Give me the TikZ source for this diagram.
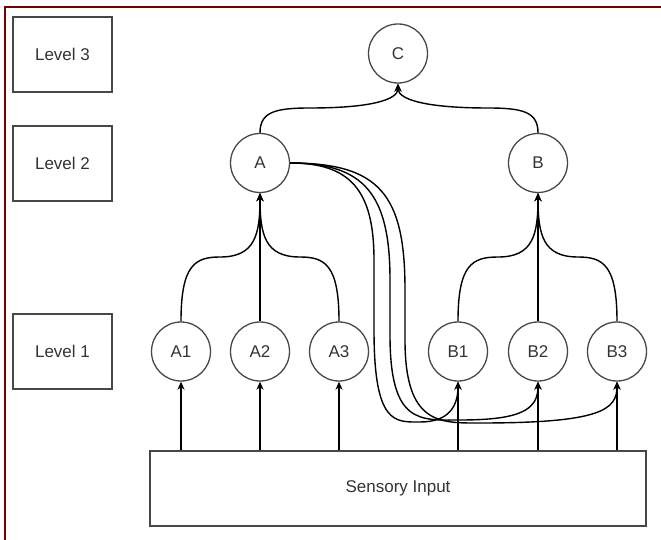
\documentclass[tikz,border=0pt]{standalone}
\usepackage{fontspec}
\setmainfont{Liberation Sans}
\usetikzlibrary{arrows.meta}
\definecolor{txt}{HTML}{333333}
\definecolor{edgegray}{HTML}{474747}
\definecolor{frame}{HTML}{750000}
\begin{document}
\begin{tikzpicture}[x=1pt,y=-1pt,
  lbl/.style={font=\fontsize{17}{20}\selectfont, text=txt},
  neuron/.style={lbl, circle, draw=edgegray, line width=1.3pt, minimum size=59pt, inner sep=0pt},
  lvlbox/.style={lbl, rectangle, draw=edgegray, line width=1.5pt, minimum width=99pt, minimum height=75pt, inner sep=0pt},
  conn/.style={draw=black, line width=1.4pt, -{Stealth[length=8pt,width=7pt,inset=2.5pt]}}
]
\useasboundingbox (0,0) rectangle (661,540);
\draw[frame, line width=1.4pt] (5,540) -- (5,7) -- (661,7);

% level boxes
\node[lvlbox] (L3) at (62.5,54.5) {Level 3};
\node[lvlbox] (L2) at (62.5,163.5) {Level 2};
\node[lvlbox] (L1) at (62.5,351.5) {Level 1};

% neurons
\node[neuron] (C) at (398,53.5) {C};
\node[neuron] (A) at (260,163) {A};
\node[neuron] (B) at (538,163) {B};
\node[neuron] (A1) at (181,351.5) {A1};
\node[neuron] (A2) at (260,351.5) {A2};
\node[neuron] (A3) at (339,351.5) {A3};
\node[neuron] (B1) at (458,351.5) {B1};
\node[neuron] (B2) at (538,351.5) {B2};
\node[neuron] (B3) at (617,351.5) {B3};

% sensory box
\node[lvlbox, minimum width=496pt] (S) at (398,488.5) {Sensory Input};

% level 2 -> level 3
\draw[conn] (A.north) .. controls (260,112) and (275,108) .. (310,108)
  .. controls (370,108) and (C.south |- 0,100) .. (C.south);
\draw[conn] (B.north) .. controls (538,112) and (523,108) .. (488,108)
  .. controls (428,108) and (C.south |- 0,100) .. (C.south);

% level 1 -> level 2
\draw[conn] (A1.north) .. controls (181,265) and (195,257) .. (220,257)
  .. controls (255,257) and (260,235) .. (A.south);
\draw[conn] (A2.north) -- (A.south);
\draw[conn] (A3.north) .. controls (339,265) and (325,257) .. (300,257)
  .. controls (265,257) and (260,235) .. (A.south);
\draw[conn] (B1.north) .. controls (458,265) and (472,257) .. (498,257)
  .. controls (533,257) and (538,235) .. (B.south);
\draw[conn] (B2.north) -- (B.south);
\draw[conn] (B3.north) .. controls (617,265) and (603,257) .. (578,257)
  .. controls (543,257) and (538,235) .. (B.south);

% A -> B1, B2, B3
\draw[conn] (A.east) .. controls (350,163) and (374,190) .. (374,260)
  -- (374,330) .. controls (374,425) and (395,422) .. (420,422)
  .. controls (450,422) and (458,405) .. (B1.south);
\draw[conn] (A.east) .. controls (365,163) and (390,195) .. (390,280)
  -- (390,335) .. controls (390,425) and (420,420) .. (460,420)
  .. controls (520,420) and (538,410) .. (B2.south);
\draw[conn] (A.east) .. controls (380,163) and (405,195) .. (405,290)
  -- (405,340) .. controls (405,425) and (440,423) .. (480,423)
  .. controls (600,423) and (617,410) .. (B3.south);

% sensory input -> level 1
\foreach \n in {A1,A2,A3,B1,B2,B3}
  \draw[conn] (S.north -| \n) -- (\n.south);
\end{tikzpicture}
\end{document}
